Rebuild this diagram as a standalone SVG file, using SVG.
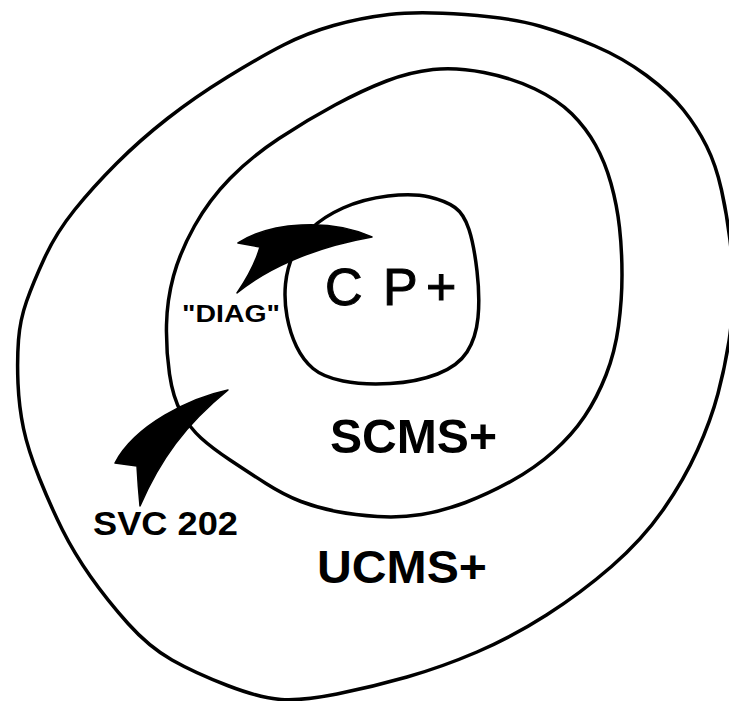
<svg xmlns="http://www.w3.org/2000/svg" width="729" height="701" viewBox="0 0 729 701">
<style>
.ring{fill:none;stroke:#000;stroke-width:3.5;stroke-linejoin:round;stroke-linecap:round}
.arrow{fill:#000;stroke:#000;stroke-width:1.5;stroke-linejoin:round}
.lbl{font-family:"Liberation Sans",Arial,sans-serif;fill:#000}
.b{font-weight:bold}
</style>
<rect width="729" height="701" fill="#fff"/>
<g id="ucms">
<path class="ring" d="M389,14.5 Q418,11 465,14.5 Q512,18 539.5,26 Q567,34 595,46 Q623,58 646.5,75.5 Q670,93 683.5,110 Q697,127 706.5,146 Q716,165 721.5,190 Q727,215 730,240 Q733,265 733,290 Q733,315 729,341 Q725,367 718,393.5 Q711,420 697.5,450 Q684,480 663,510 Q642,540 611.5,566.5 Q581,593 546.5,615 Q512,637 477,652 Q442,667 407,677 Q372,687 337,694 Q302,701 281,699.5 Q260,698 227.5,685.5 Q195,673 172,660 Q149,647 128,623.5 Q107,600 90.5,576.5 Q74,553 62.5,530 Q51,507 39.5,478.5 Q28,450 23.5,428.5 Q19,407 18,383.5 Q17,360 18.5,340 Q20,320 26.5,301.5 Q33,283 44.5,258 Q56,233 74.5,210 Q93,187 116.5,163.5 Q140,140 167.5,118.5 Q195,97 227.5,77 Q260,57 283.5,45 Q307,33 333.5,25.5 Q360,18 389,14.5 Z"/>
<text class="lbl b" x="317" y="583" font-size="46" textLength="170" lengthAdjust="spacingAndGlyphs">UCMS+</text>
</g>
<g id="scms">
<path class="ring" d="M433,69.5 Q456,67 484,72.5 Q512,78 535,89 Q558,100 572,114 Q586,128 595.5,145 Q605,162 611,183.5 Q617,205 619.5,227.5 Q622,250 622,275 Q622,300 618.5,326 Q615,352 606,375 Q597,398 584.5,416.5 Q572,435 553.5,451.5 Q535,468 511.5,481 Q488,494 465.5,502.5 Q443,511 421.5,514.5 Q400,518 377.5,516.5 Q355,515 336.5,511.5 Q318,508 301,501.5 Q284,495 266,483.5 Q248,472 230,460 Q212,448 201,438 Q190,428 181.5,413 Q173,398 169.5,374 Q166,350 166.5,325 Q167,300 173.5,276 Q180,252 194.5,226 Q209,200 230,178.5 Q251,157 279,138.5 Q307,120 335,105 Q363,90 386.5,81 Q410,72 433,69.5 Z"/>
<text class="lbl b" x="330" y="453" font-size="48" textLength="167" lengthAdjust="spacingAndGlyphs">SCMS+</text>
</g>
<g id="cp">
<path class="ring" d="M388,196 Q413,193 429.5,197 Q446,201 455,207.5 Q464,214 469,229.5 Q474,245 477,271 Q480,297 478,317.5 Q476,338 467,352 Q458,366 437.5,374 Q417,382 390,383.5 Q363,385 343,381 Q323,377 313,368.5 Q303,360 296.5,346.5 Q290,333 287,316.5 Q284,300 285.5,284 Q287,268 293.5,254 Q300,240 311.5,228.5 Q323,217 343,208 Q363,199 388,196 Z"/>
<text class="lbl" y="305" font-size="52" stroke="#000" stroke-width="1"><tspan x="325">C</tspan><tspan x="383">P</tspan><tspan x="426">+</tspan></text>
</g>
<g id="connectors">
<g id="diag">
<path class="arrow" d="M372,237 C330,218 270,222 238,243 L260,247 Q254,268 237,293 C265,270 310,248 372,237 Z"/>
<text class="lbl b" x="182" y="322" font-size="24" textLength="98" lengthAdjust="spacingAndGlyphs">"DIAG"</text>
</g>
<g id="svc202">
<path class="arrow" d="M228,390 C190,398 135,425 115,463 L137,466 Q138,485 140,506 C160,460 185,425 228,390 Z"/>
<text class="lbl b" x="93" y="535" font-size="34" textLength="145" lengthAdjust="spacingAndGlyphs">SVC 202</text>
</g>
</g>
</svg>
